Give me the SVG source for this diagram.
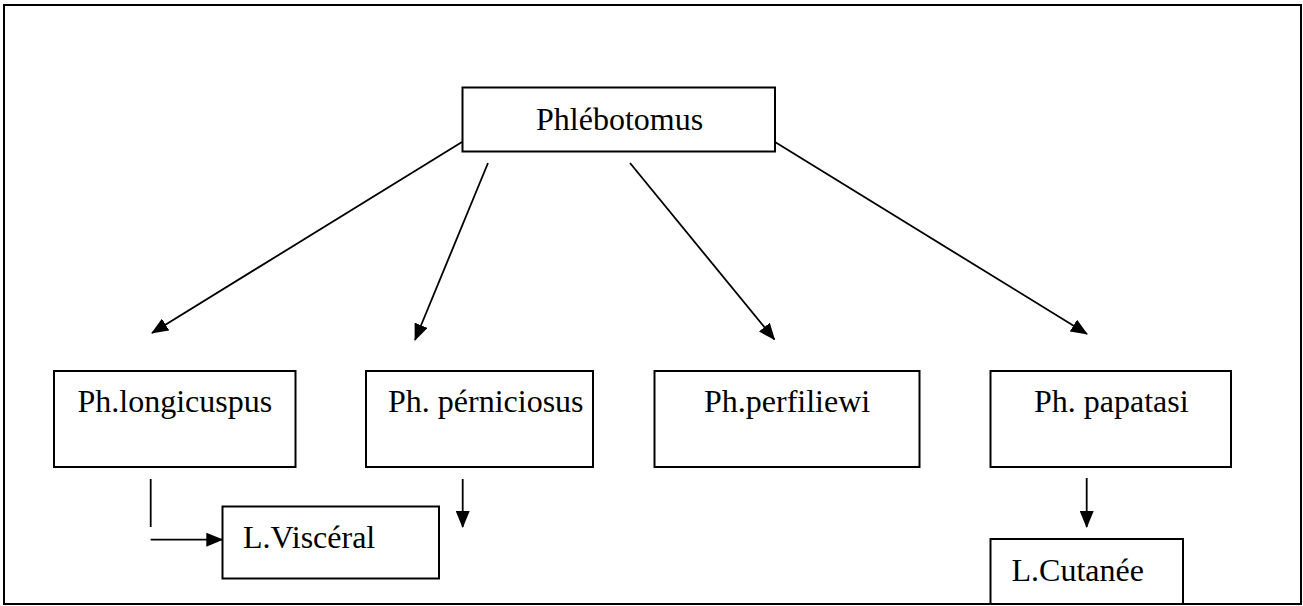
<svg xmlns="http://www.w3.org/2000/svg" width="1303" height="606" viewBox="0 0 1303 606">
<style>
.box{fill:#fff;stroke:#000;stroke-width:2}
.t{font-family:'Liberation Serif','Times New Roman','DejaVu Serif',Tinos,serif;font-size:32px;fill:#000}
.c{stroke:#000;stroke-width:1.8;fill:none}
</style>
<defs>
<marker id="ah" markerWidth="17" markerHeight="14" refX="16" refY="7" orient="auto" markerUnits="userSpaceOnUse">
<path d="M0,0 L17,7 L0,14 Z" fill="#000"/>
</marker>
</defs>
<rect x="0" y="0" width="1303" height="606" fill="#fff"/>
<rect id="frame" x="4" y="5" width="1297" height="599" fill="none" stroke="#000" stroke-width="2"/>
<g id="n-phlebotomus"><rect class="box" x="462.5" y="87.5" width="312.5" height="64"/><text class="t" font-family="Liberation Serif, serif" x="536" y="129.5">Phlébotomus</text></g>
<g id="n-longicuspus"><rect class="box" x="54" y="371" width="241.5" height="96"/><text class="t" font-family="Liberation Serif, serif" x="77.5" y="411.5">Ph.longicuspus</text></g>
<g id="n-perniciosus"><rect class="box" x="366" y="371" width="227" height="96"/><text class="t" font-family="Liberation Serif, serif" x="388" y="411.5">Ph. pérniciosus</text></g>
<g id="n-perfiliewi"><rect class="box" x="654.5" y="371" width="265" height="96"/><text class="t" font-family="Liberation Serif, serif" x="704" y="411.5">Ph.perfiliewi</text></g>
<g id="n-papatasi"><rect class="box" x="990.5" y="371" width="240.5" height="96"/><text class="t" font-family="Liberation Serif, serif" x="1034" y="411.5">Ph. papatasi</text></g>
<g id="n-visceral"><rect class="box" x="222.5" y="506.5" width="216.5" height="72"/><text class="t" font-family="Liberation Serif, serif" x="243" y="548">L.Viscéral</text></g>
<g id="n-cutanee"><rect class="box" x="990.5" y="539" width="192.5" height="65"/><text class="t" font-family="Liberation Serif, serif" x="1011.5" y="581">L.Cutanée</text></g>
<g id="connectors">
<line class="c" x1="462" y1="142" x2="152" y2="333" marker-end="url(#ah)"/>
<line class="c" x1="488" y1="163" x2="415" y2="340" marker-end="url(#ah)"/>
<line class="c" x1="630" y1="163" x2="774.5" y2="339.5" marker-end="url(#ah)"/>
<line class="c" x1="775" y1="142" x2="1087" y2="334" marker-end="url(#ah)"/>
<line class="c" x1="150.7" y1="479" x2="150.7" y2="527"/>
<line class="c" x1="150.7" y1="539.7" x2="222.3" y2="539.7" marker-end="url(#ah)"/>
<line class="c" x1="462.7" y1="479" x2="462.7" y2="527" marker-end="url(#ah)"/>
<line class="c" x1="1086.7" y1="478" x2="1086.7" y2="527" marker-end="url(#ah)"/>
</g>
</svg>
